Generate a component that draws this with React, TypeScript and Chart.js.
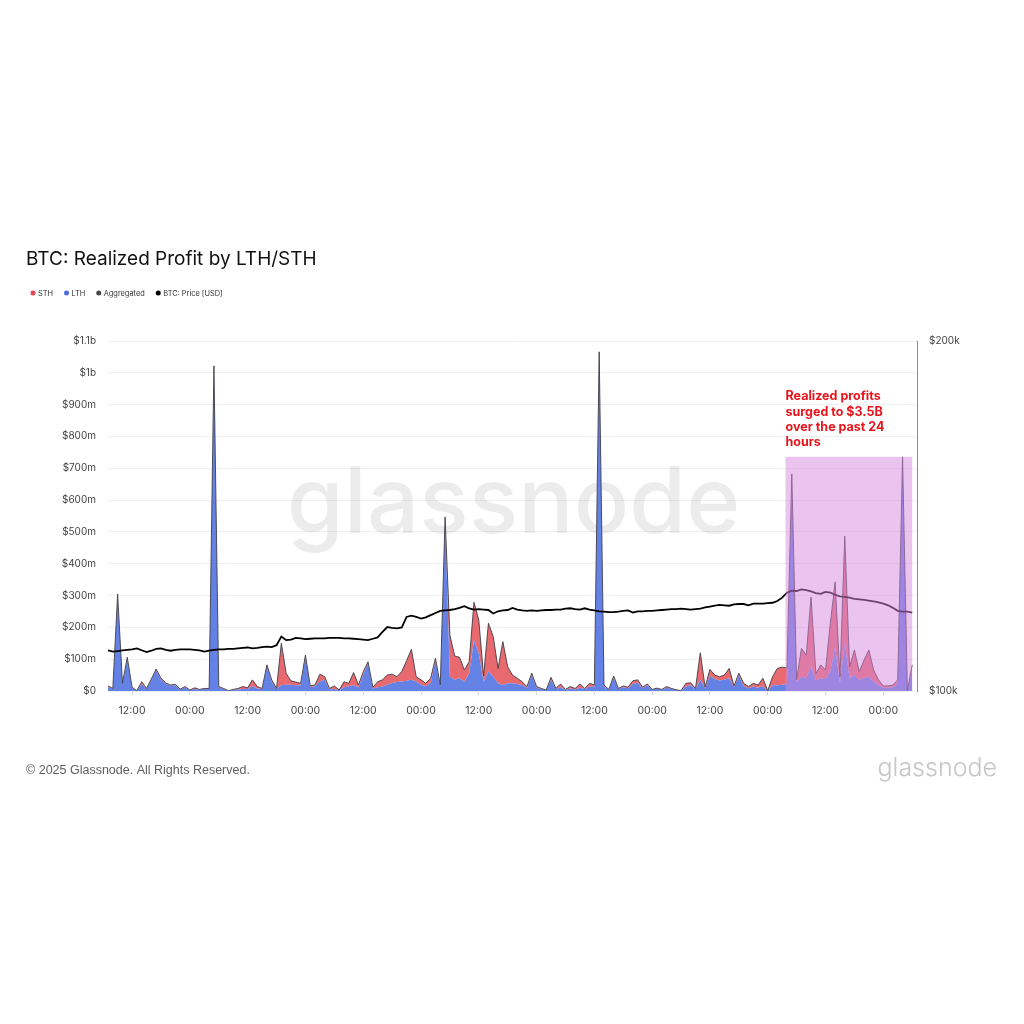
import { useEffect, useRef } from "react";
import { Chart, registerables } from "chart.js";

Chart.register(...registerables);

// Hourly samples, first one at 07:00 UTC
const START_HOUR = 7;

// Realized profit of long-term holders, USD millions per hour
const lthProfit = [
  12, 6, 300, 22, 100, 10, 1, 22, 6, 35, 66, 36, 22, 17, 18, 5, 12, 2, 6, 4,
  6, 7, 1015, 12, 6, 1, 3, 5, 6, 6, 15, 8, 6, 78, 30, 6, 19, 20, 20, 18,
  18, 108, 12, 15, 30, 35, 5, 6, 2, 12, 15, 18, 12, 50, 88, 8, 12, 14, 20, 25,
  28, 30, 32, 35, 30, 20, 15, 25, 95, 15, 540, 45, 35, 40, 29, 55, 160, 118, 29, 61,
  45, 24, 19, 24, 24, 22, 19, 10, 50, 10, 6, 2, 35, 6, 12, 3, 8, 5, 10, 6,
  14, 12, 1055, 14, 4, 42, 6, 12, 9, 22, 26, 9, 18, 4, 7, 4, 10, 6, 3, 1,
  14, 18, 6, 35, 8, 47, 38, 33, 35, 40, 12, 48, 15, 9, 14, 10, 15, 1, 18, 18,
  20, 22, 670, 28, 45, 40, 76, 33, 40, 38, 61, 139, 24, 150, 40, 50, 35, 40, 45, 30,
  20, 10, 10, 12, 25, 725, 1, 70,
];

// Realized profit of short-term holders, USD millions per hour
const sthProfit = [
  4, 2, 5, 2, 6, 2, 0, 7, 2, 3, 3, 4, 3, 2, 3, 1, 2, 1, 4, 1,
  2, 1, 7, 2, 2, 0, 2, 3, 8, 4, 20, 6, 2, 4, 5, 2, 131, 35, 12, 10,
  6, 5, 4, 4, 23, 10, 3, 10, 1, 17, 9, 40, 7, 10, 4, 4, 17, 21, 30, 28,
  17, 31, 63, 96, 15, 15, 9, 15, 8, 4, 7, 130, 75, 66, 37, 37, 119, 105, 18, 152,
  126, 47, 136, 52, 26, 18, 10, 4, 6, 4, 2, 1, 8, 2, 10, 2, 6, 3, 12, 2,
  10, 7, 11, 5, 1, 5, 2, 4, 3, 10, 9, 3, 4, 1, 2, 1, 4, 2, 1, 0,
  10, 8, 2, 85, 4, 21, 12, 12, 15, 31, 4, 8, 9, 5, 10, 9, 25, 0, 27, 53,
  55, 50, 12, 7, 89, 73, 219, 22, 42, 28, 152, 204, 21, 337, 36, 79, 26, 57, 84, 36,
  15, 6, 6, 7, 10, 11, 0, 12,
];

// BTC price, USD thousands
const btcPrice = [
  108.4, 108.1, 108.2, 108.4, 108.5, 108.6, 108.8, 108.4, 108.0, 108.3,
  108.7, 108.8, 108.5, 108.3, 108.5, 108.6, 108.6, 108.6, 108.5, 108.4,
  108.1, 108.3, 108.5, 108.6, 108.6, 108.7, 108.7, 108.8, 108.9, 109.0,
  108.8, 108.9, 109.1, 109.2, 109.1, 109.5, 111.4, 110.6, 110.7, 111.1,
  111.0, 110.8, 110.9, 111.0, 111.0, 111.0, 111.1, 111.1, 111.1, 111.0,
  111.0, 110.9, 110.8, 110.7, 110.6, 110.9, 111.2, 112.4, 113.5, 113.3,
  113.2, 113.4, 115.8, 116.1, 115.8, 115.4, 115.7, 116.2, 116.7, 117.2,
  117.3, 117.4, 117.6, 117.9, 118.3, 117.8, 117.5, 117.6, 117.5, 117.4,
  116.6, 117.1, 117.3, 117.4, 117.9, 117.5, 117.3, 117.2, 117.3, 117.2,
  117.3, 117.4, 117.4, 117.5, 117.5, 117.7, 117.8, 117.6, 117.5, 117.8,
  117.5, 117.3, 117.1, 117.0, 116.9, 116.9, 117.0, 117.2, 117.3, 116.8,
  117.1, 117.1, 117.2, 117.2, 117.3, 117.4, 117.5, 117.6, 117.6, 117.7,
  117.6, 117.5, 117.6, 117.7, 118.0, 118.2, 118.4, 118.6, 118.5, 118.4,
  118.7, 118.8, 118.8, 118.5, 118.9, 118.9, 118.9, 119.0, 119.1, 119.5,
  120.3, 121.5, 122.0, 121.9, 122.3, 122.1, 121.8, 121.4, 121.2, 121.7,
  121.5, 121.0, 120.6, 120.5, 120.3, 120.0, 119.9, 119.8, 119.6, 119.4,
  119.2, 118.9, 118.5, 117.9, 117.2, 117.0, 117.0, 116.8,
];

const hourIndex = lthProfit.map((_, i) => i);
const aggregated = lthProfit.map((v, i) => v + sthProfit[i]);
const hourOfDay = (i: number) => (START_HOUR + i) % 24;

// Highlighted window: the last 24h surge
const highlightFrom = 140.7;
const highlightTo = 167;
const highlightTop = 736;
const highlightNote = ["Realized profits", "surged to $3.5B", "over the past 24", "hours"];

const legendItems = [
  { label: "STH", color: "#e5474f" },
  { label: "LTH", color: "#4d6fdc" },
  { label: "Aggregated", color: "#474747" },
  { label: "BTC: Price [USD]", color: "#000000" },
];

const FONT = "Inter, 'Noto Sans', sans-serif";

const profitLabel = (v: number) => {
  if (v === 0) return "$0";
  if (v >= 1000) return `$${+(v / 1000).toFixed(1)}b`;
  return `$${v}m`;
};

const decorations = {
  id: "decorations",
  beforeDraw(chart: any) {
    const { ctx, width, height } = chart;
    ctx.save();
    ctx.fillStyle = "#ffffff";
    ctx.fillRect(0, 0, width, height);
    ctx.restore();
  },
  beforeDatasetsDraw(chart: any) {
    const { ctx, chartArea } = chart;
    ctx.save();
    ctx.font = `500 92px ${FONT}`;
    ctx.fillStyle = "rgba(0,0,0,0.075)";
    ctx.textAlign = "center";
    ctx.textBaseline = "middle";
    ctx.fillText("glassnode", (chartArea.left + chartArea.right) / 2 + 1, 505);
    ctx.restore();
  },
  afterDatasetsDraw(chart: any) {
    const { ctx } = chart;
    const x = chart.scales.x;
    const y = chart.scales.y;
    const left = x.getPixelForValue(highlightFrom);
    const right = x.getPixelForValue(highlightTo);
    const top = y.getPixelForValue(highlightTop);
    const bottom = y.getPixelForValue(0);
    ctx.save();
    ctx.fillStyle = "rgba(214,136,222,0.5)";
    ctx.fillRect(left, top, right - left, bottom - top);
    ctx.restore();
  },
  afterDraw(chart: any) {
    const { ctx } = chart;
    ctx.save();
    // title
    ctx.fillStyle = "#111111";
    ctx.font = `400 19px ${FONT}`;
    ctx.textBaseline = "middle";
    ctx.textAlign = "left";
    ctx.fillText("BTC: Realized Profit by LTH/STH", 26, 259);

    // legend
    ctx.font = `400 7.4px ${FONT}`;
    let lx = 33;
    legendItems.forEach((item) => {
      ctx.fillStyle = item.color;
      ctx.beginPath();
      ctx.arc(lx, 293, 2.5, 0, Math.PI * 2);
      ctx.fill();
      ctx.fillStyle = "#333333";
      ctx.fillText(item.label, lx + 5, 293.5);
      lx += 5 + ctx.measureText(item.label).width + 13.5;
    });

    // note above the highlighted window
    const x = chart.scales.x;
    ctx.fillStyle = "#e8141c";
    ctx.font = `700 12.5px ${FONT}`;
    const nx = x.getPixelForValue(highlightFrom);
    highlightNote.forEach((line, i) => {
      ctx.fillText(line, nx, 396.5 + i * 15.4);
    });

    // footer
    ctx.fillStyle = "#5e5e5e";
    ctx.font = `400 12.5px 'Liberation Sans', Arial, sans-serif`;
    ctx.fillText("\u00a9 2025 Glassnode. All Rights Reserved.", 26, 770.5);
    ctx.fillStyle = "#c6c6c6";
    ctx.font = `300 25px ${FONT}`;
    ctx.textAlign = "right";
    ctx.fillText("glassnode", 997, 768);
    ctx.restore();
  },
};

export default function App() {
  const canvasRef = useRef<HTMLCanvasElement | null>(null);

  useEffect(() => {
    if (!canvasRef.current) return;
    const chart = new Chart(canvasRef.current, {
      type: "line",
      data: {
        labels: hourIndex,
        datasets: [
          {
            label: "LTH",
            data: lthProfit,
            yAxisID: "y",
            stack: "holders",
            backgroundColor: "#6482e5",
            borderWidth: 0,
            pointRadius: 0,
            fill: "origin",
            order: 2,
          },
          {
            label: "STH",
            data: sthProfit,
            yAxisID: "y",
            stack: "holders",
            backgroundColor: "#e96a6e",
            borderWidth: 0,
            pointRadius: 0,
            fill: "-1",
            order: 3,
          },
          {
            label: "Aggregated",
            data: aggregated,
            yAxisID: "y",
            stack: "total",
            borderColor: "#3d3d48",
            borderWidth: 0.9,
            pointRadius: 0,
            fill: false,
            order: 1,
          },
          {
            label: "BTC: Price [USD]",
            data: btcPrice,
            yAxisID: "y1",
            borderColor: "#000000",
            borderWidth: 1.8,
            pointRadius: 0,
            fill: false,
            order: 0,
          },
        ],
      },
      options: {
        responsive: false,
        animation: false,
        devicePixelRatio: 1,
        layout: { padding: { top: 341, left: 0, right: 0, bottom: 0 } },
        elements: { line: { tension: 0 } },
        plugins: {
          legend: { display: false },
          title: { display: false },
          tooltip: { enabled: false },
        },
        scales: {
          x: {
            type: "linear",
            min: 0,
            max: 168,
            afterFit: (scale: any) => {
              scale.height = 333;
            },
            afterBuildTicks: (axis: any) => {
              axis.ticks = hourIndex
                .filter((i) => hourOfDay(i) % 12 === 0)
                .map((i) => ({ value: i }));
            },
            ticks: {
              autoSkip: false,
              maxRotation: 0,
              padding: 10,
              color: "#444444",
              font: { family: FONT, size: 10.5 },
              callback: (v: any) => (hourOfDay(Number(v)) === 0 ? "00:00" : "12:00"),
            },
            grid: {
              drawOnChartArea: false,
              drawTicks: true,
              tickLength: 4,
              color: "#d6d6d6",
            },
            border: { display: false },
          },
          y: {
            type: "linear",
            position: "left",
            stacked: true,
            min: 0,
            max: 1100,
            afterFit: (scale: any) => {
              scale.width = 108;
            },
            ticks: {
              stepSize: 100,
              padding: 12,
              color: "#444444",
              font: { family: FONT, size: 10 },
              callback: (v: any) => profitLabel(Number(v)),
            },
            grid: { color: "#efefef", lineWidth: 1, drawTicks: false },
            border: { display: false },
          },
          y1: {
            type: "logarithmic",
            position: "right",
            min: 100,
            max: 200,
            afterFit: (scale: any) => {
              scale.width = 107;
            },
            afterBuildTicks: (axis: any) => {
              axis.ticks = [{ value: 100 }, { value: 200 }];
            },
            ticks: {
              padding: 12,
              color: "#444444",
              font: { family: FONT, size: 10 },
              callback: (v: any) => `$${v}k`,
            },
            grid: { display: false, drawTicks: false },
            border: { display: true, color: "#8a8a8a", width: 1 },
          },
        },
      },
      plugins: [decorations],
    });
    return () => chart.destroy();
  }, []);

  return (
    <div style={{ position: "absolute", left: 0, top: 0, width: 1024, height: 1024, background: "#fff" }}>
      <canvas ref={canvasRef} width={1024} height={1024} style={{ display: "block" }} />
    </div>
  );
}
